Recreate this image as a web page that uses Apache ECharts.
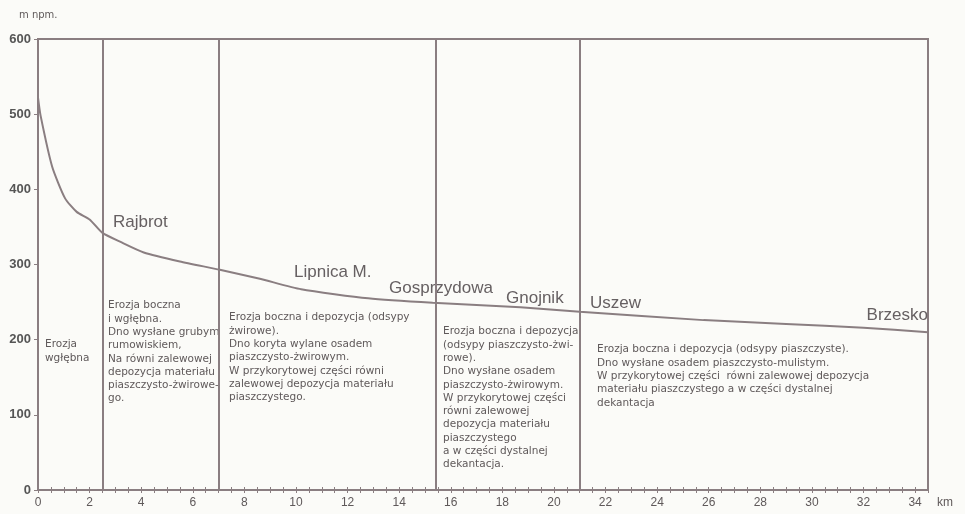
<!DOCTYPE html>
<html>
<head>
<meta charset="utf-8">
<script src="https://cdn.jsdelivr.net/npm/echarts@6/dist/echarts.min.js"></script>
<style>
  html, body { margin: 0; padding: 0; background: #fbfbf8; }
  #chart { width: 965px; height: 514px; }
</style>
</head>
<body>
<div id="chart"></div>
<script>
// Longitudinal profile of the river: distance (km) and elevation (m n.p.m.)
const profileKm = [0, 0.1, 0.55, 1.05, 1.5, 2.0, 2.5, 3.2, 4.1, 5.5, 7.05, 8.6, 10.2, 12.8, 15.3, 18.7, 21.0, 25.8, 29.0, 32.0, 34.5];
const elevation = [522, 498, 430, 388, 370, 360, 342, 330, 316, 304, 293, 281, 267, 255, 249, 243, 237, 226, 221, 216, 210];

// Boundaries between river sections (km)
const sectionBounds = [2.5, 7, 15.4, 21];

// Towns along the river
const towns = ['Rajbrot', 'Lipnica M.', 'Gosprzydowa', 'Gnojnik', 'Uszew', 'Brzesko'];

// Description of processes in each section
const sectionTexts = [
  'Erozja\nwgłębna',
  'Erozja boczna\ni wgłębna.\nDno wysłane grubym\nrumowiskiem,\nNa równi zalewowej\ndepozycja materiału\npiaszczysto-żwirowe-\ngo.',
  'Erozja boczna i depozycja (odsypy\nżwirowe).\nDno koryta wylane osadem\npiaszczysto-żwirowym.\nW przykorytowej części równi\nzalewowej depozycja materiału\npiaszczystego.',
  'Erozja boczna i depozycja\n(odsypy piaszczysto-żwi-\nrowe).\nDno wysłane osadem\npiaszczysto-żwirowym.\nW przykorytowej części\nrówni zalewowej\ndepozycja materiału\npiaszczystego\na w części dystalnej\ndekantacja.',
  'Erozja boczna i depozycja (odsypy piaszczyste).\nDno wysłane osadem piaszczysto-mulistym.\nW przykorytowej części  równi zalewowej depozycja\nmateriału piaszczystego a w części dystalnej\ndekantacja'
];

// Axis ticks
const xTickStep = 2;
const yTickStep = 100;

const ink = '#8a7e81';
const textInk = '#5f595a';
const font = 'Liberation Sans, Arial, sans-serif';
const noteFont = 'DejaVu Sans, sans-serif';

const chart = echarts.init(document.getElementById('chart'), null, { renderer: 'canvas' });

const townPos = [
  [113, 222], [294, 272], [389, 288], [506, 298], [590, 303], [928, 315]
];
const textPos = [
  [45, 338], [108, 299], [229, 311], [443, 325], [597, 343]
];

const graphics = [];
towns.forEach((t, i) => {
  graphics.push({
    type: 'text',
    x: townPos[i][0], y: townPos[i][1],
    style: {
      text: t, fill: '#666062', font: '17px ' + font,
      textAlign: i === towns.length - 1 ? 'right' : 'left', textVerticalAlign: 'middle'
    },
    z: 5
  });
});
sectionTexts.forEach((t, i) => {
  graphics.push({
    type: 'text', x: textPos[i][0], y: textPos[i][1],
    style: { text: t, fill: textInk, font: '10.5px ' + noteFont, lineHeight: 13.3, textAlign: 'left', textVerticalAlign: 'top' },
    z: 5
  });
});
graphics.push({ type: 'text', x: 19, y: 10, style: { text: 'm npm.', fill: textInk, font: '10px ' + noteFont } });
graphics.push({ type: 'text', x: 937, y: 503, style: { text: 'km', fill: textInk, font: '12px ' + font, textVerticalAlign: 'middle' } });

chart.setOption({
  backgroundColor: '#fbfbf8',
  animation: false,
  grid: {
    left: 38, top: 39, right: 37, bottom: 24,
    show: true, borderColor: ink, borderWidth: 2, backgroundColor: 'transparent'
  },
  xAxis: [{
    type: 'value', min: 0, max: 34.5, interval: xTickStep,
    axisLine: { show: true, lineStyle: { color: ink, width: 2 } },
    axisTick: { show: true, length: 3, lineStyle: { color: ink, width: 1 } },
    minorTick: { show: true, splitNumber: 4, length: 3, lineStyle: { color: ink, width: 1 } },
    axisLabel: {
      color: textInk, fontFamily: font, fontSize: 12, margin: 7,
      formatter: v => (v % xTickStep === 0 ? String(v) : '')
    },
    splitLine: { show: false }
  }, {
    type: 'value', min: 0, max: 34.5, interval: xTickStep, position: 'bottom',
    axisLine: { show: false },
    axisTick: { show: true, inside: true, length: 3, lineStyle: { color: ink, width: 1 } },
    minorTick: { show: true, splitNumber: 4, length: 3, lineStyle: { color: ink, width: 1 } },
    axisLabel: { show: false },
    splitLine: { show: false }
  }],
  yAxis: {
    type: 'value', min: 0, max: 600, interval: yTickStep,
    axisLine: { show: true, lineStyle: { color: ink, width: 2 } },
    axisTick: { show: true, length: 4, lineStyle: { color: ink, width: 1 } },
    axisLabel: { color: '#555', fontFamily: font, fontSize: 13, fontWeight: 'bold', margin: 7 },
    splitLine: { show: false }
  },
  series: [{
    type: 'line',
    xAxisIndex: 0,
    data: profileKm.map((k, i) => [k, elevation[i]]),
    showSymbol: false,
    smooth: 0.2,
    lineStyle: { color: ink, width: 2 },
    markLine: {
      silent: true, symbol: 'none', label: { show: false },
      lineStyle: { color: ink, width: 2, type: 'solid' },
      data: sectionBounds.map(b => ({ xAxis: b }))
    }
  }],
  graphic: graphics
});
</script>
</body>
</html>
